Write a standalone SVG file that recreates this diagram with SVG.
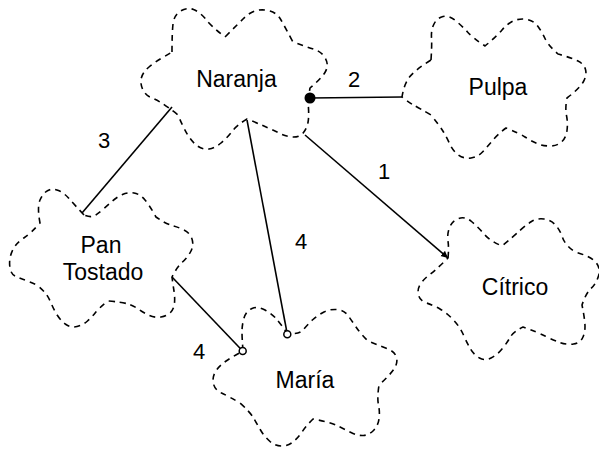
<svg xmlns="http://www.w3.org/2000/svg" width="599" height="450" viewBox="0 0 599 450">
  <style>
    .cloud { fill: none; stroke: #000; stroke-width: 1.6; stroke-dasharray: 6 5; stroke-linejoin: round; stroke-linecap: butt; }
    .label { font-family: "Liberation Sans", Arial, Helvetica, sans-serif; font-size: 23px; fill: #000; text-anchor: middle; }
    .link { fill: none; stroke: #000; stroke-width: 1.6; }
    .num { font-family: "Liberation Sans", Arial, Helvetica, sans-serif; font-size: 22px; fill: #000; text-anchor: middle; }
  </style>
  <defs>
    <marker id="arrow" markerUnits="userSpaceOnUse" markerWidth="8" markerHeight="8" refX="7" refY="3.5" orient="auto">
      <path d="M0,0 L7,3.5 L0,7 Z" fill="#000"/>
    </marker>
  </defs>
  <rect width="599" height="450" fill="#fff"/>

  <!-- concept clouds -->
  <g id="naranja">
    <path class="cloud" d="M172,52 Q172,33 173,24 Q174,15 180.5,11 Q187,7 193.5,9.5 Q200,12 206,19.5 Q212,27 225,37
      Q237,25 243.5,18.5 Q250,12 256.5,10.5 Q263,9 270,11 Q277,13 281,20 Q285,27 293,42
      Q307,47 314.5,49.5 Q322,52 325.5,58.5 Q329,65 325.5,71.5 Q322,78 310,88
      Q308,100 308.5,108.5 Q309,117 308,122.5 Q307,128 303.5,132.5 Q300,137 293.5,137 Q287,137 280,133.5 Q273,130 265,126.5 Q257,123 247,119
      Q237,125 232,131.5 Q227,138 221,143 Q215,148 209,149 Q203,150 197.5,146 Q192,142 187.5,134.5 Q183,127 178,115
      Q168,107 162.5,103.5 Q157,100 151,97.5 Q145,95 142.5,89 Q140,83 141.5,77.5 Q143,72 149,67 Q155,62 161,58.5 Q167,55 172,52 Z"/>
    <text class="label" x="236.5" y="87">Naranja</text>
  </g>

  <g id="pulpa">
    <path class="cloud" d="M431,60 Q432,45 431.5,37.5 Q431,30 434,24 Q437,18 443,16.5 Q449,15 455.5,20.5 Q462,26 467.5,32 Q473,38 485,46
      Q496,37 502,30 Q508,23 514.5,20.5 Q521,18 527.5,19.5 Q534,21 538,26.5 Q542,32 545,38.5 Q548,45 558,54
      Q572,58 578,61 Q584,64 585.5,69.5 Q587,75 583.5,81.5 Q580,88 567,98
      Q565,108 566.5,115.5 Q568,123 567,130.5 Q566,138 561.5,142 Q557,146 550,146 Q543,146 537,143.5 Q531,141 525,137 Q519,133 506,128
      Q498,134 493,140 Q488,146 483,151.5 Q478,157 471,158 Q464,159 458.5,155 Q453,151 450,144.5 Q447,138 443.5,132 Q440,126 431,115
      Q419,108 413.5,105 Q408,102 402,97
      Q404,84 409.5,77 Q415,70 431,60 Z"/>
    <text class="label" x="498" y="95">Pulpa</text>
  </g>

  <g id="citrico">
    <path class="cloud" d="M448,258 Q449,248 448,241 Q447,234 449.5,227.5 Q452,221 458.5,218.5 Q465,216 471.5,221.5 Q478,227 484,234 Q490,241 502,246
      Q514,236 520,230.5 Q526,225 531.5,221.5 Q537,218 544,219 Q551,220 555.5,225 Q560,230 562.5,237.5 Q565,245 575,252
      Q590,256 595.5,262 Q601,268 598.5,276 Q596,284 591,288.5 Q586,293 582,305
      Q585,320 585,326.5 Q585,333 582.5,338 Q580,343 573.5,344 Q567,345 560,342.5 Q553,340 545,336 Q537,332 523,327
      Q513,332 510,337.5 Q507,343 502,349 Q497,355 491,358 Q485,361 479.5,358 Q474,355 470.5,349 Q467,343 463.5,335 Q460,327 453.5,320 Q447,313 440,309 Q433,305 426.5,303 Q420,301 418.5,295 Q417,289 420.5,284 Q424,279 428.5,275.5 Q433,272 437,268.5 Q441,265 448,258 Z"/>
    <text class="label" x="515" y="295">Cítrico</text>
  </g>

  <g id="maria">
    <path class="cloud" d="M243,351 Q242,338 242,331.5 Q242,325 244,318 Q246,311 252,308.5 Q258,306 265,310 Q272,314 276,318.5 Q280,323 287,333
      Q299,335 303.5,329.5 Q308,324 313,319.5 Q318,315 324,312 Q330,309 337,309.5 Q344,310 348,315.5 Q352,321 356,327 Q360,333 368,341
      Q383,347 389,349.5 Q395,352 396.5,357.5 Q398,363 394,369 Q390,375 379,385
      Q377,398 378.5,405 Q380,412 379,419 Q378,426 373.5,430.5 Q369,435 363.5,435.5 Q358,436 351,432.5 Q344,429 337,425.5 Q330,422 313,419
      Q306,426 302,432 Q298,438 293,442 Q288,446 281.5,446 Q275,446 269.5,441 Q264,436 260.5,430 Q257,424 253.5,418 Q250,412 240,403
      Q228,396 221.5,393 Q215,390 213.5,384 Q212,378 215,372.5 Q218,367 224,362.5 Q230,358 243,351 Z"/>
    <text class="label" x="305" y="388">María</text>
  </g>

  <g id="pan-tostado">
    <path class="cloud" d="M84,215 Q73,203 68.5,198 Q64,193 58.5,190.5 Q53,188 48,190.5 Q43,193 40,200 Q37,207 40,223
      Q30,234 24.5,237.5 Q19,241 15.5,245.5 Q12,250 10.5,256 Q9,262 10,268 Q11,274 15,276 Q19,278 23.5,279.5 Q28,281 37,285
      Q44,291 46.5,294.5 Q49,298 51.5,304 Q54,310 57.5,315.5 Q61,321 66,324.5 Q71,328 77,326.5 Q83,325 87.5,321 Q92,317 95.5,312.5 Q99,308 108,301
      Q122,302 128,304 Q134,306 139,309.5 Q144,313 149.5,315.5 Q155,318 161,317 Q167,316 170.5,312.5 Q174,309 174.5,303 Q175,297 174,291 Q173,285 172,277
      Q177,267 182.5,262 Q188,257 191,251 Q194,245 192,239 Q190,233 184,230 Q178,227 172,225.5 Q166,224 156,217
      Q150,206 145,200 Q140,194 134,193 Q128,192 122.5,194.5 Q117,197 112.5,201 Q108,205 103.5,209 Q99,213 95,215.5 Q91,218 84,215 Z"/>
    <text class="label" x="101" y="253">Pan</text>
    <text class="label" x="103" y="280">Tostado</text>
  </g>

  <!-- links with their numbers -->
  <g id="connectors">
    <line class="link" x1="172" y1="107" x2="82" y2="213"/>
    <text class="num" x="104" y="148">3</text>

    <line class="link" x1="310" y1="98" x2="402" y2="97" stroke-width="2"/>
    <circle cx="310" cy="98" r="5.5" fill="#000"/>
    <text class="num" x="354" y="87">2</text>

    <line class="link" x1="305" y1="135" x2="448" y2="258" marker-end="url(#arrow)"/>
    <text class="num" x="384" y="179">1</text>

    <line class="link" x1="247" y1="120" x2="286.6" y2="330.6"/>
    <circle cx="287.3" cy="334.2" r="3.5" fill="#fff" stroke="#000" stroke-width="1.5"/>
    <text class="num" x="301" y="249">4</text>

    <line class="link" x1="172" y1="277" x2="240.3" y2="348.5"/>
    <circle cx="242.7" cy="351" r="3.5" fill="#fff" stroke="#000" stroke-width="1.5"/>
    <text class="num" x="199" y="359">4</text>
  </g>
</svg>
